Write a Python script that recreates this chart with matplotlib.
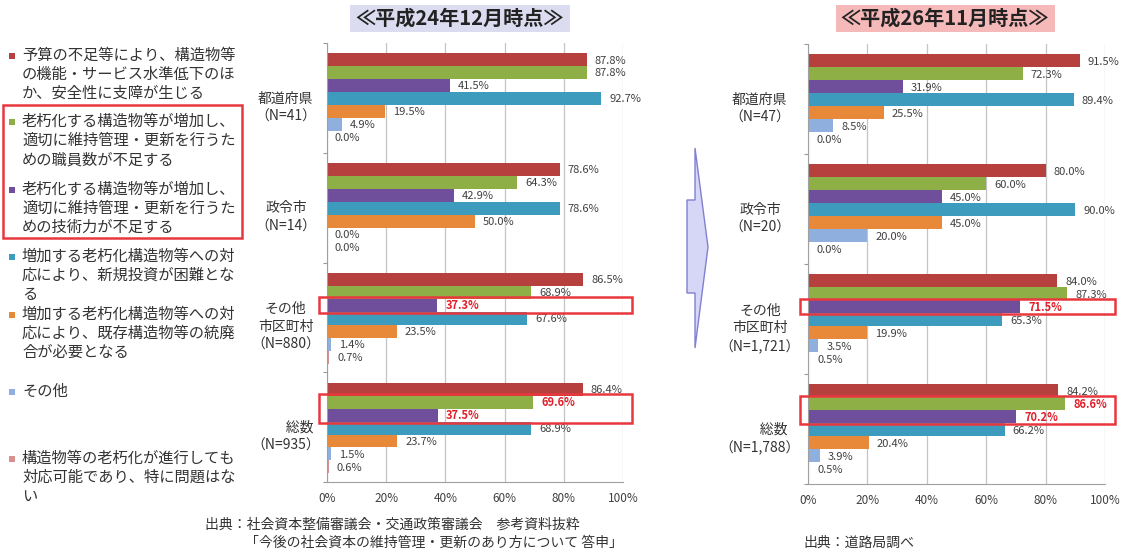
import matplotlib
matplotlib.use("Agg")
import matplotlib.pyplot as plt
from matplotlib.patches import Rectangle, Polygon

plt.rcParams['font.family'] = ['Noto Sans CJK JP', 'DejaVu Sans']

W, H = 1122, 553

# ── data ─────────────────────────────────────────────────────────────────────
legend_labels = [
    "予算の不足等により、構造物等\nの機能・サービス水準低下のほ\nか、安全性に支障が生じる",
    "老朽化する構造物等が増加し、\n適切に維持管理・更新を行うた\nめの職員数が不足する",
    "老朽化する構造物等が増加し、\n適切に維持管理・更新を行うた\nめの技術力が不足する",
    "増加する老朽化構造物等への対\n応により、新規投資が困難とな\nる",
    "増加する老朽化構造物等への対\n応により、既存構造物等の統廃\n合が必要となる",
    "その他",
    "構造物等の老朽化が進行しても\n対応可能であり、特に問題はな\nい",
]
colors = ["#B5403E", "#8DAF46", "#6F4F9B", "#3D9BBD", "#E8893A", "#8FB0DE", "#D8918F"]

cats_h24 = ["都道府県\n（N=41）", "政令市\n（N=14）", "その他\n市区町村\n（N=880）", "　　総数\n（N=935）"]
cats_h26 = ["都道府県\n（N=47）", "政令市\n（N=20）", "その他\n市区町村\n（N=1,721）", "　　総数\n（N=1,788）"]

h24_pref  = [87.8, 87.8, 41.5, 92.7, 19.5, 4.9, 0.0]
h24_city  = [78.6, 64.3, 42.9, 78.6, 50.0, 0.0, 0.0]
h24_other = [86.5, 68.9, 37.3, 67.6, 23.5, 1.4, 0.7]
h24_total = [86.4, 69.6, 37.5, 68.9, 23.7, 1.5, 0.6]

h26_pref  = [91.5, 72.3, 31.9, 89.4, 25.5, 8.5, 0.0]
h26_city  = [80.0, 60.0, 45.0, 90.0, 45.0, 20.0, 0.0]
h26_other = [84.0, 87.3, 71.5, 65.3, 19.9, 3.5, 0.5]
h26_total = [84.2, 86.6, 70.2, 66.2, 20.4, 3.9, 0.5]

# (group, bar) pairs shown in red, and the red frames (group, first bar, n bars)
highlight = [(2, 2), (3, 1), (3, 2)]
frames = [(2, 2, 1), (3, 1, 2)]

GAP = 110 / 13.0   # group pitch in bar units
PAD = 0.8


def bar_y(g, j):
    return g * GAP + PAD + j + 0.5


def draw_panel(ax, values, cats, label_x):
    for j in range(7):
        ys = [bar_y(g, j) for g in range(4)]
        xs = [values[g][j] for g in range(4)]
        ax.barh(ys, xs, height=1.0, color=colors[j], linewidth=0, zorder=2)
        for g in range(4):
            red = (g, j) in highlight
            ax.text(xs[g] + 2.7, ys[g] + 0.05, f"{xs[g]:.1f}%", va="center", ha="left",
                    fontsize=8, color="#E0202A" if red else "#404040",
                    fontweight="bold" if red else "normal", zorder=4)
    for g, j0, n in frames:
        ax.add_patch(Rectangle((-2.6, bar_y(g, j0) - 0.62), 105.8, n + 0.2, fill=False,
                               ec="#E8383D", lw=1.8, clip_on=False, zorder=5))
    for g, c in enumerate(cats):
        ax.text(label_x, g * GAP + GAP / 2 + 0.75, c, ha="center", va="center",
                multialignment="center", fontsize=10, color="#333333", linespacing=1.35)
    ax.set_xlim(0, 100)
    ax.set_ylim(4 * GAP, 0)
    ax.set_xticks(range(0, 101, 20))
    ax.set_xticklabels([f"{t}%" for t in range(0, 101, 20)], fontsize=8.5, color="#404040")
    ax.set_yticks([GAP * k for k in range(5)])
    ax.set_yticklabels([])
    ax.tick_params(axis="y", length=3, color="#999999")
    ax.tick_params(axis="x", length=0, pad=7)
    ax.grid(axis="x", color="#C4C4C4", lw=0.9)
    ax.set_axisbelow(True)
    for s in ("top", "right"):
        ax.spines[s].set_visible(False)
    for s in ("left", "bottom"):
        ax.spines[s].set_color("#A0A0A0")


fig = plt.figure(figsize=(W / 100, H / 100), dpi=100)

# overlay in pixel coordinates for legend, titles, arrow and notes
ov = fig.add_axes([0, 0, 1, 1])
ov.set_xlim(0, W)
ov.set_ylim(H, 0)
ov.axis("off")

ax1 = fig.add_axes([327 / W, 1 - 482 / H, 296 / W, 439 / H])
ax2 = fig.add_axes([808 / W, 1 - 484 / H, 297 / W, 440 / H])
draw_panel(ax1, [h24_pref, h24_city, h24_other, h24_total], cats_h24, -13.9)
draw_panel(ax2, [h26_pref, h26_city, h26_other, h26_total], cats_h26, -16.2)

# legend
leg_y = [56, 122, 190, 257, 315, 392, 459]
for lab, col, y in zip(legend_labels, colors, leg_y):
    ov.add_patch(Rectangle((9.5, y - 3), 5.5, 5.5, color=col, lw=0))
    ov.text(22, y - 9, lab, ha="left", va="top", fontsize=11, color="#333333", linespacing=1.16)
ov.add_patch(Rectangle((3.5, 105), 239, 133, fill=False, ec="#E8383D", lw=1.8))

# titles
ov.add_patch(Rectangle((350, 5), 220, 27, color="#DCDCF0", lw=0))
ov.text(460, 18.5, "≪平成24年12月時点≫", ha="center", va="center", fontsize=14.5,
        fontweight="bold", color="#222222")
ov.add_patch(Rectangle((836, 5), 219, 27, color="#F6B9B9", lw=0))
ov.text(945, 18.5, "≪平成26年11月時点≫", ha="center", va="center", fontsize=14.5,
        fontweight="bold", color="#222222")

# arrow between the panels
ov.add_patch(Polygon([(687, 200), (695, 200), (695, 148), (708, 247), (695, 348),
                      (695, 293), (687, 293)], closed=True,
                     fc="#D6D6F6", ec="#8080D0", lw=1.0))

# sources
ov.text(205, 525, "出典：社会資本整備審議会・交通政策審議会　参考資料抜粋", ha="left",
        va="center", fontsize=10, color="#333333")
ov.text(245, 543, "「今後の社会資本の維持管理・更新のあり方について 答申」", ha="left",
        va="center", fontsize=10, color="#333333")
ov.text(803, 543, "出典：道路局調べ", ha="left", va="center", fontsize=10, color="#333333")

fig.savefig("out.png", dpi=100)
